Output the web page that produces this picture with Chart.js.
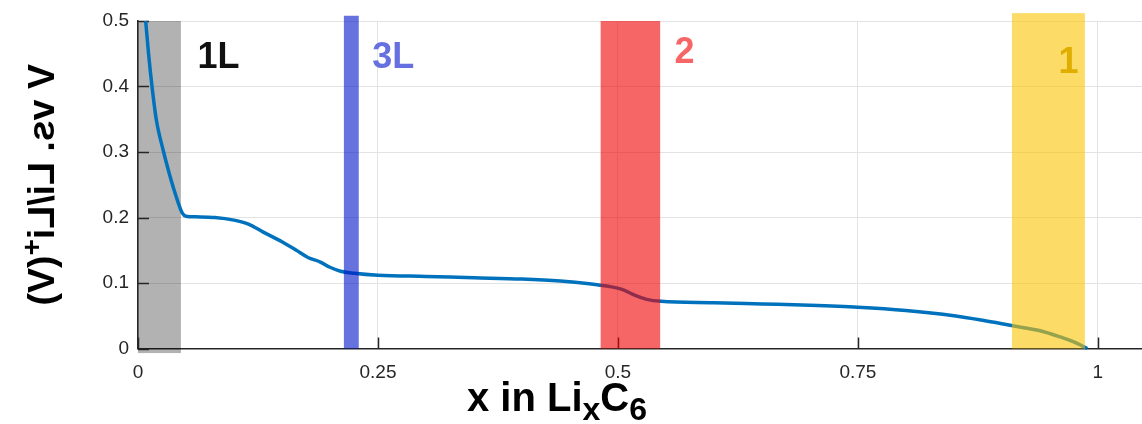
<!DOCTYPE html>
<html>
<head>
<meta charset="utf-8">
<script src="https://cdn.jsdelivr.net/npm/chart.js@4"></script>
<style>
  html, body { margin: 0; padding: 0; background: #fff; }
  #wrap { width: 1142px; height: 424px; }
</style>
</head>
<body>
<div id="wrap"><canvas id="voltageChart" width="1142" height="424"></canvas></div>
<script>
// discharge curve: x in LixC6 against potential
const xLi = [0.008, 0.011, 0.0146, 0.019, 0.0267, 0.033, 0.038, 0.042, 0.046, 0.050,
             0.060, 0.080, 0.100, 0.115, 0.130, 0.150, 0.165, 0.177, 0.190, 0.200,
             0.211, 0.225, 0.250, 0.300, 0.350, 0.400, 0.440, 0.470, 0.490, 0.505,
             0.518, 0.530, 0.545, 0.600, 0.650, 0.700, 0.750, 0.800, 0.850, 0.880,
             0.910, 0.940, 0.960, 0.975, 0.989];
const voltage = [0.500, 0.450, 0.400, 0.350, 0.300, 0.265, 0.240, 0.222, 0.207, 0.202,
                 0.201, 0.200, 0.196, 0.190, 0.178, 0.163, 0.150, 0.139, 0.132, 0.124,
                 0.118, 0.115, 0.112, 0.110, 0.108, 0.106, 0.103, 0.099, 0.095, 0.090,
                 0.081, 0.075, 0.072, 0.070, 0.068, 0.066, 0.063, 0.058, 0.050, 0.043,
                 0.035, 0.027, 0.018, 0.010, 0.000];

// staging regions
const stageNames = ['1L', '3L', '2', '1'];
const stageFrom = [0, 0.2145, 0.482, 0.9105];
const stageTo = [0.0447, 0.230, 0.544, 0.9865];
const stageLow = [-0.007, 0, 0, 0];
const stageHigh = [0.5, 0.508, 0.5, 0.512];
const stageLabelX = [0.062, 0.244, 0.559, 0.959];
const stageLabelV = [0.428, 0.429, 0.4355, 0.420];

const xTicks = [0, 0.25, 0.5, 0.75, 1];
const yTicks = [0, 0.1, 0.2, 0.3, 0.4, 0.5];

const FONT = "'Liberation Sans', Arial, Helvetica, sans-serif";
const AXIS_COLOR = '#262626';
const stageFill = ['rgba(0,0,0,0.3)', 'rgba(0,20,200,0.6)', 'rgba(240,0,0,0.6)', 'rgba(250,195,0,0.6)'];
const stageText = ['#111111', '#6670e0', '#f76666', '#e0ae00'];

function stageRect(chart, i) {
    const xs = chart.scales.x, ys = chart.scales.y;
    const left = xs.getPixelForValue(stageFrom[i]);
    const right = xs.getPixelForValue(stageTo[i]);
    const top = ys.getPixelForValue(stageHigh[i]);
    const bottom = ys.getPixelForValue(stageLow[i]);
    return [left, top, right - left, bottom - top];
}

// text with sub / superscript pieces
function richWidth(ctx, parts, size, small) {
    let w = 0;
    parts.forEach(p => {
        ctx.font = 'bold ' + (p.sub || p.sup ? size * small : size) + 'px ' + FONT;
        w += ctx.measureText(p.t).width;
    });
    return w;
}
function drawRich(ctx, parts, x, y, size, small) {
    let cx = x;
    parts.forEach(p => {
        const s = p.sub || p.sup ? size * small : size;
        ctx.font = 'bold ' + s + 'px ' + FONT;
        let dy = 0;
        if (p.sub) dy = size * 0.22;
        if (p.sup) dy = -size * 0.36;
        ctx.fillText(p.t, cx, y + dy);
        cx += ctx.measureText(p.t).width;
    });
}

const yTitle = [{t: 'V vs. Li/Li'}, {t: '+', sup: true}, {t: '(V)'}];
const xTitle = [{t: 'x in Li'}, {t: 'x', sub: true}, {t: 'C'}, {t: '6', sub: true}];

const stagePlugin = {
    id: 'stages',
    beforeDatasetsDraw(chart) {
        const ctx = chart.ctx;
        const area = chart.chartArea;
        const xs = chart.scales.x, ys = chart.scales.y;
        ctx.save();
        // grey band sits under the curve
        ctx.fillStyle = stageFill[0];
        ctx.fillRect(...stageRect(chart, 0));
        // tick marks pointing into the plot
        ctx.strokeStyle = AXIS_COLOR;
        ctx.lineWidth = 1.5;
        ctx.beginPath();
        xTicks.forEach(v => {
            const px = Math.round(xs.getPixelForValue(v)) + 0.5;
            ctx.moveTo(px, area.bottom);
            ctx.lineTo(px, area.bottom - 11);
        });
        yTicks.forEach(v => {
            const py = Math.round(ys.getPixelForValue(v)) + 0.5;
            ctx.moveTo(area.left, py);
            ctx.lineTo(area.left + 11, py);
        });
        ctx.stroke();
        ctx.restore();
    },
    afterDatasetsDraw(chart) {
        const ctx = chart.ctx;
        const xs = chart.scales.x, ys = chart.scales.y;
        ctx.save();
        for (let i = 1; i < stageNames.length; i++) {
            ctx.fillStyle = stageFill[i];
            ctx.fillRect(...stageRect(chart, i));
        }
        ctx.font = 'bold 36px ' + FONT;
        ctx.textAlign = 'left';
        ctx.textBaseline = 'alphabetic';
        stageNames.forEach((name, i) => {
            ctx.fillStyle = stageText[i];
            ctx.fillText(name, xs.getPixelForValue(stageLabelX[i]), ys.getPixelForValue(stageLabelV[i]));
        });

        // axis titles
        ctx.fillStyle = '#000';
        ctx.textAlign = 'left';
        const area = chart.chartArea;
        const xw = richWidth(ctx, xTitle, 40, 0.8);
        drawRich(ctx, xTitle, 557 - xw / 2, 411, 40, 0.8);

        const yw = richWidth(ctx, yTitle, 37.5, 0.75);
        ctx.setTransform(0, 1, 1, 0, 54, (area.top + area.bottom) / 2);
        drawRich(ctx, yTitle, -yw / 2, 0, 37.5, 0.75);
        ctx.restore();
    }
};

const ctx = document.getElementById('voltageChart').getContext('2d');
new Chart(ctx, {
    type: 'scatter',
    data: {
        datasets: [{
            data: xLi.map((x, i) => ({x: x, y: voltage[i]})),
            showLine: true,
            borderColor: '#0072bd',
            borderWidth: 3.5,
            pointRadius: 0,
            cubicInterpolationMode: 'monotone',
            clip: false
        }]
    },
    options: {
        responsive: false,
        animation: false,
        layout: { padding: { top: 21, right: 0, left: 0, bottom: 0 } },
        plugins: { legend: { display: false }, tooltip: { enabled: false } },
        scales: {
            x: {
                type: 'linear',
                min: 0,
                max: 1.046,
                afterBuildTicks: s => { s.ticks = xTicks.map(v => ({value: v})); },
                afterFit: s => { s.height = 75.5; },
                grid: { color: '#e3e3e3', lineWidth: 1, drawTicks: false },
                border: { color: AXIS_COLOR, width: 1.5 },
                ticks: {
                    padding: 13,
                    color: AXIS_COLOR,
                    font: { family: FONT, size: 19 },
                    maxRotation: 0,
                    callback: v => String(v)
                }
            },
            y: {
                min: 0,
                max: 0.5,
                afterBuildTicks: s => { s.ticks = yTicks.map(v => ({value: v})); },
                afterFit: s => { s.width = 138; },
                grid: { color: '#e3e3e3', lineWidth: 1, drawTicks: false },
                border: { color: AXIS_COLOR, width: 1.5 },
                ticks: {
                    padding: 9,
                    color: AXIS_COLOR,
                    font: { family: FONT, size: 19 },
                    callback: v => String(v)
                }
            }
        }
    },
    plugins: [stagePlugin]
});
</script>
</body>
</html>
